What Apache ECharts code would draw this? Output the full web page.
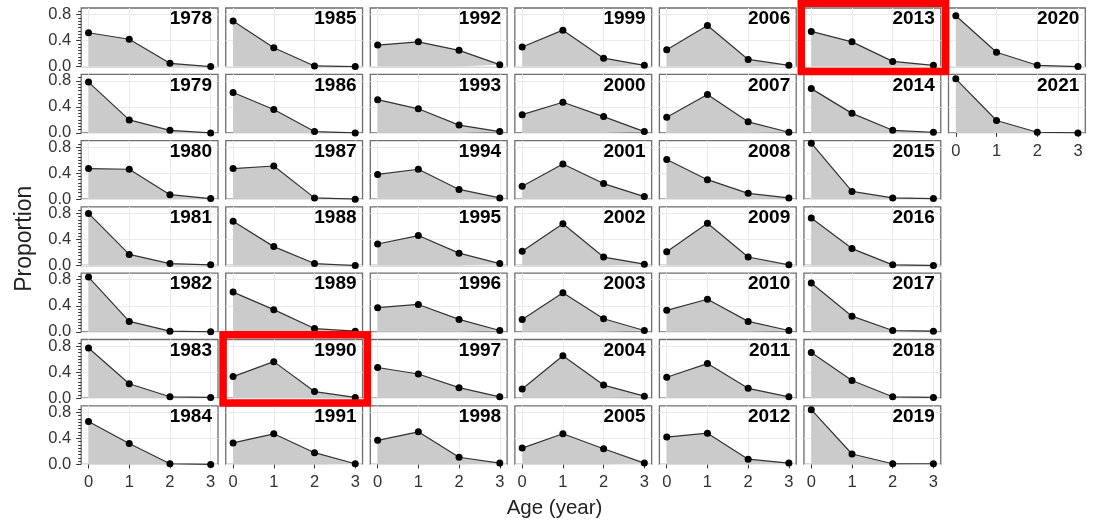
<!DOCTYPE html>
<html>
<head>
<meta charset="utf-8">
<script src="https://cdn.jsdelivr.net/npm/echarts@6/dist/echarts.min.js"></script>
<style>
  html, body { margin: 0; padding: 0; background: #fff; }
  #chart { width: 1093px; height: 525px; }
</style>
</head>
<body>
<div id="chart"></div>
<script>
// one panel per year, filled column by column (7 rows)
const years = [1978, 1979, 1980, 1981, 1982, 1983, 1984,
               1985, 1986, 1987, 1988, 1989, 1990, 1991,
               1992, 1993, 1994, 1995, 1996, 1997, 1998,
               1999, 2000, 2001, 2002, 2003, 2004, 2005,
               2006, 2007, 2008, 2009, 2010, 2011, 2012,
               2013, 2014, 2015, 2016, 2017, 2018, 2019,
               2020, 2021];
const ages = [0, 1, 2, 3];

// proportion at each age, same order as years
const age0 = [0.52, 0.78, 0.47, 0.80, 0.84, 0.77, 0.66,
              0.70, 0.62, 0.47, 0.68, 0.61, 0.33, 0.33,
              0.33, 0.51, 0.38, 0.33, 0.37, 0.47, 0.37,
              0.30, 0.28, 0.20, 0.22, 0.19, 0.14, 0.25,
              0.26, 0.24, 0.61, 0.21, 0.33, 0.32, 0.42,
              0.54, 0.68, 0.86, 0.73, 0.75, 0.70, 0.84,
              0.78, 0.83];
const age1 = [0.42, 0.20, 0.46, 0.17, 0.16, 0.22, 0.32,
              0.29, 0.36, 0.51, 0.29, 0.34, 0.56, 0.47,
              0.38, 0.37, 0.46, 0.46, 0.42, 0.37, 0.50,
              0.56, 0.47, 0.54, 0.64, 0.60, 0.65, 0.47,
              0.63, 0.59, 0.30, 0.65, 0.50, 0.53, 0.48,
              0.38, 0.30, 0.12, 0.26, 0.24, 0.27, 0.16,
              0.22, 0.19];
const age2 = [0.05, 0.04, 0.07, 0.03, 0.01, 0.02, 0.01,
              0.01, 0.02, 0.02, 0.03, 0.05, 0.10, 0.18,
              0.25, 0.12, 0.15, 0.19, 0.19, 0.16, 0.11,
              0.13, 0.25, 0.24, 0.13, 0.20, 0.20, 0.24,
              0.11, 0.17, 0.09, 0.13, 0.16, 0.15, 0.08,
              0.08, 0.04, 0.02, 0.01, 0.02, 0.02, 0.01,
              0.02, 0.01];
const age3 = [0.00, 0.00, 0.01, 0.01, 0.00, 0.01, 0.00,
              0.00, 0.00, 0.00, 0.00, 0.01, 0.01, 0.01,
              0.03, 0.02, 0.02, 0.03, 0.02, 0.02, 0.02,
              0.02, 0.02, 0.04, 0.02, 0.02, 0.03, 0.02,
              0.02, 0.01, 0.02, 0.01, 0.02, 0.02, 0.02,
              0.02, 0.01, 0.01, 0.00, 0.01, 0.01, 0.01,
              0.00, 0.00];

const xTicks = [0, 1, 2, 3];
const yTicks = [0, 0.4, 0.8];
const yMinorTicks = [0.05, 0.1, 0.15, 0.2, 0.25, 0.3, 0.35,
                     0.45, 0.5, 0.55, 0.6, 0.65, 0.7, 0.75, 0.85];
const boxedYears = [1990, 2013];

const byAge = [age0, age1, age2, age3];

// panel layout (px)
const FONT = '"Liberation Sans", Arial, Helvetica, sans-serif';
const ROWS = 7;
const PANEL_L = 81.2, PANEL_T = 8;
const COL_STEP = 144.55, ROW_STEP = 66.3;
const PANEL_W = 136.8, PANEL_H = 58.6;
const TXT = '#333';

const panelRect = (i) => {
    const col = Math.floor(i / ROWS), row = i % ROWS;
    const x = PANEL_L + col * COL_STEP, y = PANEL_T + row * ROW_STEP;
    return {x, y, w: PANEL_W, h: PANEL_H, col, row};
};

const grid = [], xAxis = [], yAxis = [], series = [], graphic = [];

years.forEach((yr, i) => {
    const p = panelRect(i);
    const isBottom = p.row === ROWS - 1 || i === years.length - 1;
    const isLeft = p.col === 0;

    grid.push({
        left: p.x, top: p.y, width: p.w, height: p.h,
        show: true, backgroundColor: '#fff',
        borderColor: '#6e6e6e', borderWidth: 1.3
    });

    xAxis.push({
        type: 'value', gridIndex: i, min: -0.18, max: 3.18,
        axisLine: {show: false, onZero: false},
        axisTick: {show: isBottom, customValues: xTicks, length: 4, lineStyle: {color: '#333', width: 1}},
        axisLabel: {show: isBottom, customValues: xTicks, margin: 10, fontSize: 16.5, color: TXT, fontFamily: FONT},
        splitLine: {show: true, lineStyle: {color: '#ebebeb', width: 1}}
    });

    const yIdx = yAxis.length;
    yAxis.push({
        type: 'value', gridIndex: i, min: 0, max: 0.9, position: 'left',
        axisLine: {show: false, onZero: false},
        axisTick: {show: isLeft, customValues: yTicks, length: 5, lineStyle: {color: '#333', width: 1}},
        axisLabel: {show: isLeft, customValues: yTicks, margin: 10, fontSize: 16.5, color: TXT, fontFamily: FONT,
                    formatter: (v) => v.toFixed(1)},
        splitLine: {show: true, lineStyle: {color: '#ebebeb', width: 1}}
    });
    if (isLeft) {
        // short minor ticks on the left column only
        yAxis.push({
            type: 'value', gridIndex: i, min: 0, max: 0.9, position: 'left', offset: 0,
            axisLine: {show: false, onZero: false},
            axisTick: {show: true, customValues: yMinorTicks, length: 3, lineStyle: {color: '#333', width: 1}},
            axisLabel: {show: false},
            splitLine: {show: false}
        });
    }

    series.push({
        type: 'line', name: String(yr), xAxisIndex: i, yAxisIndex: yIdx,
        data: ages.map((a, k) => [a, byAge[k][i]]),
        symbol: 'circle', symbolSize: 7,
        itemStyle: {color: '#000'},
        lineStyle: {color: '#333', width: 1.2},
        areaStyle: {color: '#cbcbcb', opacity: 1},
        silent: true, z: 2
    });

    // year label, top right of the panel
    graphic.push({
        type: 'text', z: 10, silent: true,
        style: {
            text: String(yr), x: p.x + p.w - 6, y: p.y + 1.5,
            textAlign: 'right', textVerticalAlign: 'top',
            font: 'bold 19px ' + FONT, fill: '#000'
        }
    });
});

// red highlight boxes
boxedYears.forEach((yr) => {
    const p = panelRect(years.indexOf(yr));
    graphic.push({
        type: 'rect', z: 20, silent: true,
        shape: {x: p.x - 2.7, y: p.y - 4.7, width: p.w + 7.5, height: p.h + 9.7},
        style: {fill: 'none', stroke: '#ff0000', lineWidth: 7.5}
    });
});

// axis titles
graphic.push({
    type: 'text', z: 10, silent: true,
    style: {text: 'Age (year)', x: 554.5, y: 508, textAlign: 'center', textVerticalAlign: 'middle',
            font: '20.5px ' + FONT, fill: '#222'}
});
graphic.push({
    type: 'text', z: 10, silent: true, x: 25, y: 238.7, rotation: Math.PI / 2,
    style: {text: 'Proportion', x: 0, y: 0, textAlign: 'center', textVerticalAlign: 'middle',
            font: '23px ' + FONT, fill: '#222'}
});

const chart = echarts.init(document.getElementById('chart'), null, {renderer: 'canvas'});
chart.setOption({
    animation: false,
    backgroundColor: '#fff',
    grid, xAxis, yAxis, series, graphic
});
</script>
</body>
</html>
